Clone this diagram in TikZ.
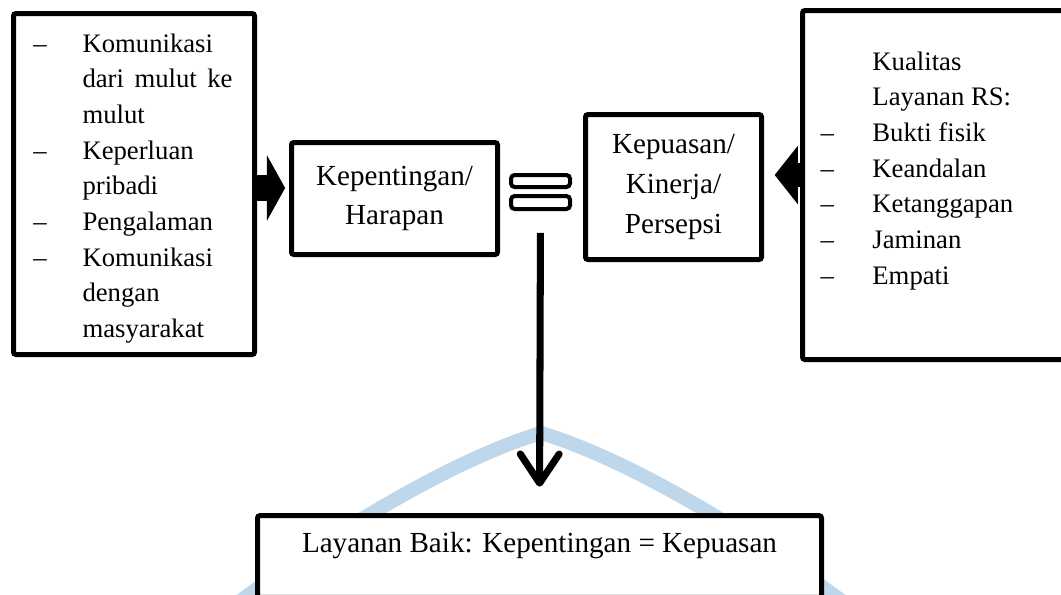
\documentclass[tikz,border=0pt]{standalone}
\usepackage{fontspec}
\setmainfont{Liberation Serif}
\usetikzlibrary{arrows.meta,calc}
\definecolor{wmblue}{RGB}{190,215,235}
\newcommand{\pxu}{0.412pt}
\hbadness=10000
\tikzset{
        boxnode/.style={draw=black, line width=2.06pt, rounded corners=1pt, fill=white, inner sep=0pt},
        % Centre boxes
        box_center/.style={boxnode, align=center, font=\fontsize{12pt}{16.3pt}\selectfont},
        % Bars of the equal sign
        eq_bar/.style={draw=black, line width=1.65pt, rounded corners=1.5pt, fill=white, inner sep=0pt, minimum width=59*\pxu},
        % Lists in the side boxes
        list_text/.style={inner sep=0pt, anchor=base west, font=\fontsize{11pt}{14.7pt}\selectfont},
        % Fat arrows
        arrow_fat_left/.style={line width=11.1pt, shorten >=1.6pt, -{Triangle[length=7.5pt, width=27pt, line width=0pt]}},
        arrow_fat_right/.style={line width=9.9pt, shorten >=4.4pt, -{Triangle[length=9.5pt, width=24pt, line width=0pt]}},
        % Result arrow
        arrow_down/.style={line width=2.9pt, shorten <=9pt, shorten >=10.9pt, -{Straight Barb[length=12pt, width=16pt, round]}},
        % Watermark band
        watermark/.style={line width=5.8pt, wmblue, line join=round}
}
\begin{document}
\begin{tikzpicture}[x=\pxu, y=-\pxu]
    \useasboundingbox (0,0) rectangle (1061,594);
    \draw[watermark] (235,605) .. controls (325,537) and (451,460) .. (541,433)
        .. controls (631,460) and (757,537) .. (847,605);

    % boxes
    \node[boxnode, minimum width=241*\pxu, minimum height=341*\pxu] (lbox) at (134,184) {};
    \node[box_center, minimum width=206*\pxu, minimum height=112*\pxu] (kbox) at (394.5,198.5) {Kepentingan/\\Harapan};
    \node[eq_bar, minimum height=12*\pxu] (eqtop) at (540.5,181) {};
    \node[eq_bar, minimum height=13*\pxu] (eqbot) at (540.5,202.5) {};
    \node[box_center, minimum width=176*\pxu, minimum height=145*\pxu] (pbox) at (673.5,187) {Kepuasan/\\Kinerja/\\Persepsi};
    \node[boxnode, minimum width=270*\pxu, minimum height=349*\pxu] (rbox) at (937.5,185) {};
    \node[box_center, minimum width=564*\pxu, text height=15pt, text depth=18.7pt] (gbox) at (539.5,556.5) {Layanan Baik: Kepentingan = Kepuasan};

    % lists
    \node[list_text] (llist) at (33,52) {\begin{tabular}[t]{@{}p{20.2pt}@{}p{61.8pt}@{}}
        -- & Komunikasi dari mulut ke mulut\\
        -- & Keperluan pribadi\\
        -- & Pengalaman\\
        -- & Komunikasi dengan masyarakat
    \end{tabular}};
    \node[list_text] (rlist) at (820,70) {\begin{tabular}[t]{@{}p{21.4pt}@{}p{63.9pt}@{}}
           & Kualitas Layanan RS:\\
        -- & Bukti fisik\\
        -- & Keandalan\\
        -- & Ketanggapan\\
        -- & Jaminan\\
        -- & Empati
    \end{tabular}};

    % arrows
    \draw[arrow_fat_left] ($(lbox.east)+(0,4)$) -- ($(lbox.east -| kbox.west)+(0,4)$);
    \draw[arrow_fat_right] ($(rbox.west)+(0,-10)$) -- ($(rbox.west -| pbox.east)+(0,-10)$);
    \draw[arrow_down] (eqbot.south) -- (gbox.north);
\end{tikzpicture}
\end{document}
